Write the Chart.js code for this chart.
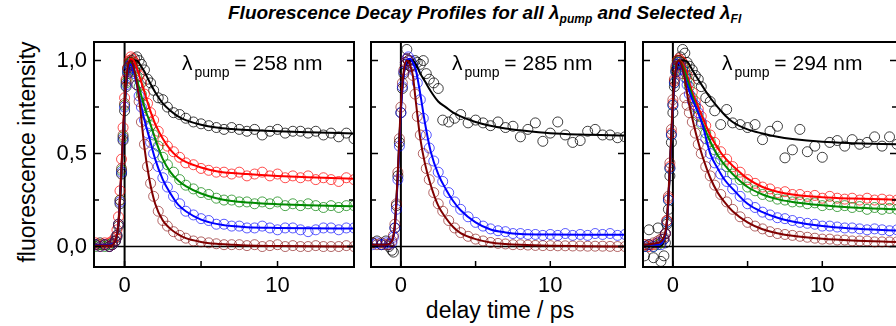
<!DOCTYPE html>
<html lang="en">
<head>
<meta charset="UTF-8">
<title>Fluorescence Decay Profiles</title>
<script src="https://cdn.jsdelivr.net/npm/chart.js"></script>
<style>
  body { margin: 0; width: 896px; height: 326px; overflow: hidden; background: #fff;
         position: relative; font-family: 'Liberation Sans', Arial, sans-serif; color: #000; }
  .panel { position: absolute; top: 0; }
  .txt { position: absolute; white-space: nowrap; }
  #title { left: 228px; top: 2px; font-size: 19px; font-weight: bold; font-style: italic; }
  #title sub { font-size: 12px; vertical-align: -4px; }
  #ytitle { left: 27px; top: 152px; font-size: 23px; transform: translate(-50%, -50%) rotate(-90deg); }
  #xtitle { left: 500px; top: 297px; font-size: 23px; transform: translateX(-50%); }
  .lab { top: 52px; font-size: 21px; line-height: 22px; }
  .lab sub { font-size: 14px; vertical-align: -7px; margin-left: 2px; margin-right: -1px; }
</style>
</head>
<body>
<div class="txt" id="title">Fluorescence Decay Profiles for all λ<sub>pump</sub> and Selected λ<sub>Fl</sub></div>
<div class="txt" id="ytitle">fluorescence intensity</div>
<div class="txt" id="xtitle">delay time / ps</div>

<canvas id="c1" class="panel" style="left:0px" width="360" height="326"></canvas>
<canvas id="c2" class="panel" style="left:365px" width="266" height="326"></canvas>
<canvas id="c3" class="panel" style="left:637px" width="266" height="326"></canvas>

<div class="txt lab" style="left:182px">λ<sub>pump</sub> = 258 nm</div>
<div class="txt lab" style="left:452px">λ<sub>pump</sub> = 285 nm</div>
<div class="txt lab" style="left:722px">λ<sub>pump</sub> = 294 nm</div>

<script>
// axis ticks
var xTicks = [0, 5, 10];
var xLabels = [0, 10];
var yTicks = [0, 0.25, 0.5, 0.75, 1.0];
var yLabels = [0, 0.5, 1.0];

// delay times of the measured points (ps)
var tData = [-1.9,-1.6,-1.3,-1.0,-0.8, -0.6,-0.5,-0.4,-0.3,-0.2, -0.1,0,0.1,0.2,0.3,
             0.4,0.5,0.65,0.8,0.95, 1.1,1.3,1.5,1.7,1.9, 2.2,2.5,2.8,3.2,3.6,
             4.0,4.5,5.0,5.5,6.0, 6.5,7.0,7.5,8.0,8.5, 9.0,9.5,10.0,10.5,11.0,
             11.5,12.0,12.5,13.0,13.5, 14.0,14.5,15.0];
// delay times of the fit curves (ps)
var tFit = [-2,-1,-0.6,-0.4,-0.2,0,0.2,0.4,0.6,0.8,1.0,1.3,1.6,2.0,2.5,3,3.5,4,5,6,7,8,10,12,15];

// lambda pump = 258 nm
var black258 = [0.01,0.02,0.01,0.0,0.02, 0.03,0.05,0.11,0.23,0.39, 0.57,0.73,0.86,0.93,0.97,
                0.99,1.0,1.01,1.02,1.0, 0.98,0.95,0.90,0.88,0.84, 0.80,0.79,0.75,0.72,0.71,
                0.69,0.67,0.66,0.65,0.64, 0.63,0.64,0.63,0.62,0.63, 0.60,0.62,0.63,0.61,0.62,
                0.62,0.61,0.62,0.60,0.61, 0.59,0.61,0.58];
var red258 = [0.02,0.01,0.02,0.02,0.03, 0.05,0.09,0.16,0.30,0.47, 0.64,0.80,0.90,0.96,1.0,
              1.02,1.01,0.99,0.96,0.92, 0.88,0.82,0.77,0.72,0.68, 0.62,0.57,0.54,0.51,0.48,
              0.45,0.44,0.42,0.41,0.40, 0.40,0.39,0.40,0.38,0.39, 0.40,0.38,0.39,0.37,0.38,
              0.37,0.38,0.36,0.37,0.36, 0.35,0.37,0.36];
var green258 = [0.0,0.01,0.0,0.01,0.01, 0.03,0.06,0.12,0.25,0.41, 0.59,0.76,0.88,0.95,0.98,
                0.99,0.98,0.95,0.91,0.86, 0.82,0.76,0.70,0.65,0.60, 0.54,0.48,0.44,0.40,0.36,
                0.33,0.31,0.29,0.28,0.26, 0.25,0.25,0.24,0.24,0.23, 0.24,0.23,0.24,0.22,0.23,
                0.22,0.23,0.22,0.21,0.22, 0.21,0.22,0.22];
var blue258 = [0.01,0.0,0.01,0.0,0.01, 0.03,0.06,0.12,0.24,0.40, 0.58,0.75,0.87,0.94,0.97,
               0.98,0.96,0.93,0.87,0.81, 0.75,0.68,0.61,0.56,0.50, 0.43,0.37,0.32,0.27,0.23,
               0.19,0.17,0.15,0.14,0.12, 0.12,0.11,0.11,0.10,0.10, 0.11,0.10,0.09,0.10,0.10,
               0.09,0.08,0.09,0.10,0.10, 0.09,0.10,0.10];
var brown258 = [0.01,0.0,0.01,0.0,0.01, 0.03,0.06,0.12,0.25,0.42, 0.60,0.77,0.89,0.96,0.99,
                1.0,0.98,0.94,0.87,0.78, 0.67,0.55,0.43,0.34,0.27, 0.19,0.14,0.11,0.08,0.06,
                0.045,0.03,0.025,0.02,0.015, 0.01,0.01,0.01,0.005,0.01, 0.0,0.005,0.01,0.0,0.005,
                0.0,0.0,0.005,0.0,0.0, 0.0,0.005,0.0];
var black258Fit = [0.01,0.01,0.03,0.12,0.40,0.74,0.93,0.99,1.0,1.0,0.98,0.94,0.89,0.83,0.77,0.73,0.70,0.68,0.655,0.64,0.632,0.627,0.62,0.615,0.608];
var red258Fit = [0.01,0.01,0.04,0.14,0.44,0.78,0.96,1.01,1.0,0.96,0.91,0.83,0.75,0.66,0.58,0.52,0.48,0.455,0.425,0.405,0.395,0.39,0.38,0.373,0.365];
var green258Fit = [0.01,0.01,0.03,0.12,0.41,0.75,0.94,0.99,0.96,0.90,0.84,0.75,0.68,0.58,0.47,0.40,0.355,0.325,0.285,0.26,0.245,0.237,0.228,0.222,0.217];
var blue258Fit = [0.01,0.01,0.03,0.12,0.41,0.75,0.94,0.98,0.94,0.87,0.79,0.68,0.59,0.47,0.36,0.285,0.225,0.19,0.145,0.122,0.11,0.104,0.1,0.098,0.097];
var brown258Fit = [0.005,0.005,0.03,0.12,0.42,0.77,0.96,1.0,0.96,0.88,0.76,0.53,0.37,0.23,0.14,0.095,0.065,0.045,0.025,0.015,0.01,0.006,0.003,0.001,0.0];

// lambda pump = 285 nm
var black285 = [0.02,0.03,0.01,0.03,0.0, -0.02,-0.03,0.10,0.22,0.38, 0.56,0.72,0.85,0.93,0.98,
                1.06,1.0,0.97,0.98,1.0, 0.99,0.98,1.0,0.93,0.90, 0.88,0.85,0.68,0.67,0.69,
                0.71,0.665,0.68,0.665,0.65, 0.67,0.64,0.647,0.59,0.63, 0.665,0.566,0.61,0.67,0.60,
                0.56,0.57,0.62,0.63,0.60, 0.60,0.585,0.59];
var blue285 = [0.01,0.02,0.01,0.02,0.01, 0.02,0.05,0.10,0.20,0.36, 0.54,0.72,0.86,0.94,0.99,
               1.01,1.02,1.0,0.97,0.94, 0.88,0.79,0.69,0.60,0.53, 0.46,0.40,0.35,0.29,0.24,
               0.20,0.16,0.13,0.11,0.095, 0.085,0.08,0.07,0.07,0.065, 0.065,0.06,0.065,0.06,0.07,
               0.06,0.065,0.06,0.07,0.065, 0.07,0.06,0.065];
var brown285 = [0.02,0.01,0.02,0.01,0.01, 0.03,0.06,0.12,0.23,0.40, 0.58,0.75,0.88,0.95,0.99,
                1.01,1.0,0.97,0.92,0.82, 0.70,0.60,0.50,0.42,0.36, 0.29,0.23,0.19,0.14,0.10,
                0.075,0.055,0.04,0.03,0.022, 0.017,0.014,0.01,0.01,0.008, 0.006,0.005,0.005,0.004,0.004,
                0.003,0.003,0.002,0.002,0.002, 0.001,0.0,0.0];
var black285Fit = [0.01,0.01,0.03,0.12,0.40,0.74,0.93,0.99,1.0,1.0,0.98,0.93,0.89,0.835,0.78,0.75,0.72,0.70,0.67,0.65,0.635,0.625,0.609,0.602,0.597];
var blue285Fit = [0.01,0.01,0.03,0.11,0.38,0.73,0.93,1.0,1.01,0.99,0.95,0.82,0.67,0.51,0.39,0.31,0.245,0.195,0.13,0.092,0.076,0.068,0.065,0.064,0.064];
var brown285Fit = [0.01,0.01,0.03,0.12,0.41,0.76,0.95,1.0,0.98,0.92,0.78,0.58,0.45,0.33,0.22,0.155,0.105,0.072,0.04,0.022,0.014,0.009,0.004,0.002,0.0];

// lambda pump = 294 nm
var black294 = [-0.05,0.09,-0.06,0.10,-0.08, -0.05,0.02,0.12,0.20,0.38, 0.56,0.72,0.86,0.94,0.98,
                1.0,1.02,1.06,1.04,0.99, 0.97,0.95,0.92,0.90,0.86, 0.80,0.78,0.73,0.656,0.737,
                0.665,0.656,0.64,0.656,0.575, 0.62,0.647,0.477,0.52,0.63, 0.51,0.54,0.48,0.56,0.57,
                0.54,0.575,0.55,0.56,0.59, 0.54,0.59,0.55];
var red294 = [0.01,0.0,0.01,0.02,0.02, 0.04,0.07,0.14,0.26,0.43, 0.61,0.77,0.89,0.96,1.0,
              1.01,1.0,0.99,0.96,0.92, 0.88,0.83,0.78,0.74,0.70, 0.65,0.60,0.56,0.51,0.47,
              0.43,0.40,0.36,0.34,0.32, 0.31,0.29,0.295,0.28,0.28, 0.27,0.275,0.26,0.27,0.26,
              0.255,0.26,0.25,0.26,0.25, 0.255,0.25,0.25];
var green294 = [0.0,0.01,0.0,0.01,0.02, 0.04,0.07,0.13,0.25,0.42, 0.60,0.76,0.88,0.95,0.99,
                1.0,0.99,0.97,0.94,0.90, 0.86,0.80,0.75,0.70,0.66, 0.61,0.565,0.52,0.47,0.43,
                0.39,0.36,0.32,0.30,0.28, 0.27,0.255,0.25,0.24,0.24, 0.23,0.235,0.22,0.225,0.215,
                0.22,0.21,0.215,0.20,0.21, 0.20,0.205,0.20];
var blue294 = [0.0,0.01,0.0,0.02,0.01, 0.04,0.07,0.13,0.25,0.42, 0.60,0.76,0.88,0.94,0.98,
               0.99,0.98,0.95,0.91,0.87, 0.82,0.78,0.76,0.72,0.67, 0.58,0.50,0.45,0.39,0.35,
               0.31,0.27,0.23,0.21,0.185, 0.17,0.155,0.15,0.14,0.13, 0.125,0.12,0.11,0.11,0.105,
               0.10,0.10,0.095,0.09,0.095, 0.09,0.085,0.09];
var brown294 = [0.01,0.01,0.02,0.03,0.04, 0.05,0.07,0.14,0.27,0.45, 0.63,0.79,0.90,0.97,1.0,
                1.0,0.98,0.93,0.80,0.76, 0.72,0.67,0.61,0.55,0.50, 0.43,0.38,0.33,0.28,0.24,
                0.20,0.16,0.13,0.11,0.095, 0.08,0.07,0.065,0.06,0.055, 0.05,0.045,0.04,0.04,0.035,
                0.035,0.03,0.03,0.03,0.025, 0.025,0.025,0.025];
var black294Fit = [0.0,0.0,0.03,0.12,0.40,0.74,0.93,0.99,1.0,1.0,0.99,0.95,0.91,0.86,0.80,0.75,0.705,0.67,0.63,0.608,0.59,0.578,0.563,0.556,0.55];
var red294Fit = [0.01,0.01,0.04,0.13,0.42,0.76,0.95,1.0,0.99,0.96,0.91,0.83,0.77,0.69,0.60,0.53,0.475,0.435,0.365,0.32,0.295,0.28,0.265,0.258,0.252];
var green294Fit = [0.01,0.01,0.04,0.13,0.42,0.76,0.95,1.0,0.98,0.94,0.89,0.81,0.74,0.66,0.565,0.49,0.435,0.39,0.32,0.28,0.255,0.24,0.222,0.21,0.20];
var blue294Fit = [0.01,0.01,0.04,0.13,0.42,0.76,0.95,0.99,0.96,0.91,0.86,0.79,0.74,0.65,0.50,0.42,0.355,0.31,0.23,0.185,0.155,0.135,0.11,0.097,0.086];
var brown294Fit = [0.01,0.02,0.05,0.14,0.44,0.78,0.96,1.0,0.97,0.90,0.80,0.69,0.59,0.48,0.37,0.29,0.235,0.19,0.13,0.093,0.072,0.058,0.042,0.033,0.025];

var lineColors = { black: '#000000', red: '#ff0000', green: '#008a00', blue: '#0000ff', brown: '#800000' };
var dotColors = { black: 'rgba(0,0,0,0.75)', red: 'rgba(255,0,0,0.7)', green: 'rgba(0,128,0,0.7)',
                  blue: 'rgba(0,0,255,0.65)', brown: 'rgba(128,0,0,0.6)' };
var stack = { brown: 0, blue: 1, green: 2, red: 3, black: 4 };   // lower = drawn on top

var tickFont = { family: "'Liberation Sans', Arial, sans-serif", size: 22 };

// box, zero lines and inward tick marks
var framePlugin = {
    id: 'frame',
    beforeDatasetsDraw: function (chart) {
        var ctx = chart.ctx, a = chart.chartArea, x = chart.scales.x, y = chart.scales.y;
        var x0 = x.getPixelForValue(0), y0 = y.getPixelForValue(0);
        ctx.save();
        ctx.strokeStyle = '#000';
        ctx.lineWidth = 1.5;
        ctx.beginPath(); ctx.moveTo(a.left, y0); ctx.lineTo(a.right, y0); ctx.stroke();
        ctx.lineWidth = 2;
        ctx.beginPath(); ctx.moveTo(x0, a.top); ctx.lineTo(x0, a.bottom); ctx.stroke();
        ctx.restore();
    },
    afterDatasetsDraw: function (chart) {
        var ctx = chart.ctx, a = chart.chartArea, x = chart.scales.x, y = chart.scales.y;
        ctx.save();
        ctx.strokeStyle = '#000';
        ctx.lineWidth = 1.5;
        yTicks.forEach(function (v) {
            var p = y.getPixelForValue(v);
            var len = yLabels.indexOf(v) >= 0 ? 7 : 5;
            ctx.beginPath();
            ctx.moveTo(a.left, p); ctx.lineTo(a.left + len, p);
            ctx.moveTo(a.right, p); ctx.lineTo(a.right - len, p);
            ctx.stroke();
        });
        xTicks.forEach(function (v) {
            var p = x.getPixelForValue(v);
            ctx.beginPath(); ctx.moveTo(p, a.bottom); ctx.lineTo(p, a.bottom - 6); ctx.stroke();
        });
        ctx.lineWidth = 2;
        ctx.strokeRect(a.left, a.top, a.right - a.left, a.bottom - a.top);
        ctx.restore();
    }
};

function toPoints(ts, vals) {
    return vals.map(function (v, i) { return { x: ts[i], y: v }; });
}

function makeChart(id, series, showY) {
    var datasets = [];
    series.forEach(function (s) {
        var name = s[0];
        datasets.push({
            data: toPoints(tFit, s[2]),
            showLine: true,
            borderColor: lineColors[name],
            borderWidth: 2,
            pointRadius: 0,
            cubicInterpolationMode: 'monotone',
            order: stack[name]
        });
        datasets.push({
            data: toPoints(tData, s[1]),
            showLine: false,
            pointStyle: 'circle',
            pointRadius: 5,
            pointBorderWidth: 1,
            pointBorderColor: dotColors[name],
            pointBackgroundColor: 'rgba(0,0,0,0)',
            order: 10 + stack[name]
        });
    });

    return new Chart(document.getElementById(id), {
        type: 'scatter',
        data: { datasets: datasets },
        options: {
            responsive: false,
            animation: false,
            events: [],
            layout: { padding: { top: 42, right: 4, left: 0, bottom: 0 } },
            plugins: { legend: { display: false }, tooltip: { enabled: false } },
            scales: {
                x: {
                    type: 'linear', min: -2, max: 15,
                    afterBuildTicks: function (s) { s.ticks = xTicks.map(function (v) { return { value: v }; }); },
                    afterFit: function (s) { s.height = 59; },
                    grid: { display: false, drawTicks: false },
                    border: { display: false },
                    ticks: {
                        autoSkip: false, maxRotation: 0, padding: 6, color: '#000', font: tickFont,
                        callback: function (v) { return xLabels.indexOf(v) >= 0 ? String(v) : ''; }
                    }
                },
                y: {
                    type: 'linear', min: -0.11, max: 1.1,
                    display: showY,
                    afterBuildTicks: function (s) { s.ticks = yTicks.map(function (v) { return { value: v }; }); },
                    afterFit: function (s) { s.width = showY ? 94 : 0; },
                    grid: { display: false, drawTicks: false },
                    border: { display: false },
                    ticks: {
                        autoSkip: false, padding: 7, color: '#000', font: tickFont,
                        callback: function (v) { return yLabels.indexOf(v) >= 0 ? v.toFixed(1).replace('.', ',') : ''; }
                    }
                }
            }
        },
        plugins: [framePlugin]
    });
}

makeChart('c1', [
    ['black', black258, black258Fit],
    ['red', red258, red258Fit],
    ['green', green258, green258Fit],
    ['blue', blue258, blue258Fit],
    ['brown', brown258, brown258Fit]
], true);

makeChart('c2', [
    ['black', black285, black285Fit],
    ['blue', blue285, blue285Fit],
    ['brown', brown285, brown285Fit]
], false);

makeChart('c3', [
    ['black', black294, black294Fit],
    ['red', red294, red294Fit],
    ['green', green294, green294Fit],
    ['blue', blue294, blue294Fit],
    ['brown', brown294, brown294Fit]
], false);
</script>
</body>
</html>
